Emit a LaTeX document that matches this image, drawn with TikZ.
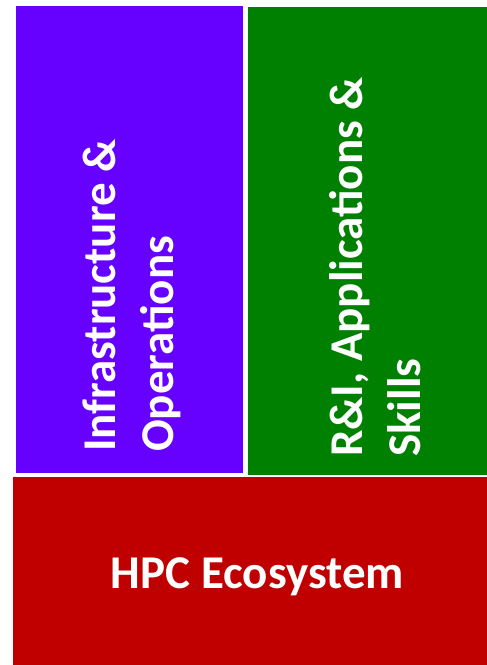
\documentclass[tikz,border=0pt]{standalone}
\usepackage{fontspec}
\newfontfamily\blockfont{Carlito}
\usetikzlibrary{positioning}
\definecolor{infracol}{HTML}{6600FF}
\definecolor{appscol}{HTML}{008000}
\definecolor{ecocol}{HTML}{C00000}
\tikzset{
  block/.style ={inner sep=0pt,anchor=south west},
  lbl/.style   ={text=white,inner sep=0pt,align=left,
                 font=\blockfont\bfseries\fontsize{47}{58}\selectfont},
  vlbl/.style  ={lbl,rotate=90,anchor=base west},
}

\begin{document}
\begin{tikzpicture}[x=1pt,y=1pt]
  \useasboundingbox (0,0) rectangle (487,665);
  % the three blocks
  \node[block,fill=infracol,minimum width=227pt,minimum height=467pt] (infra) at (16,192){};
  \node[block,fill=appscol,minimum width=239pt,minimum height=468pt] (apps) at (248,190){};
  \node[block,fill=ecocol,minimum width=474pt,minimum height=188pt] (eco) at (13,0){};
  % labels (base = last line)
  \node[vlbl] (infralbl) at (173,213){Infrastructure \&\\Operations};
  \node[vlbl] (appslbl) at (420,208){R\&I, Applications \&\\Skills};
  \node[lbl,anchor=base] (ecolbl) at (257.5,76){HPC Ecosystem};
\end{tikzpicture}
\end{document}
